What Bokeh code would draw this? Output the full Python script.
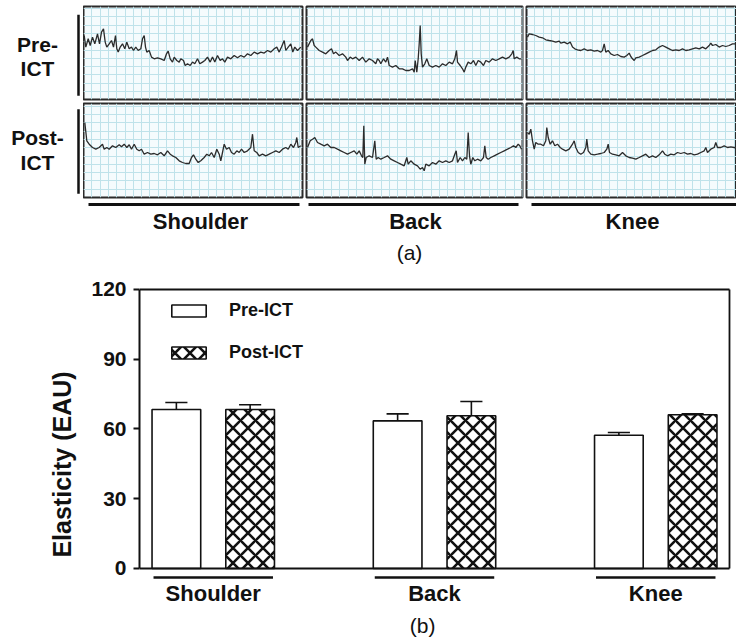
from bokeh.plotting import figure
from bokeh.models import Range1d, Grid, SingleIntervalTicker, Legend, LegendItem, FixedTicker
from bokeh.layouts import column, row
from bokeh.core.properties import value
from bokeh.embed import file_html
from bokeh.resources import INLINE

FONT = "Liberation Sans"
INK = "#111111"

# ---------------- data: (a) elastography traces (time, amplitude) ----------------
sh_pre_t = [0.7,2.3,4.7,6.7,9,11.3,14,16,18,20,21.7,23.3,25.7,28,30,32,33.3,34.7,36.7,39,41.3,43.3,45.7,48,50,52.3,54.7,57.3,59,60.7,62,63.3,65.7,68,70.7,74,77.3,80.7,83,84.7,86.7,89,90.7,93.3,95.7,97.3,100,101.7,104,106.7,109,111.3,114,116.3,119,121.3,124,126.7,129,131.3,134,136.7,139,141.3,144,147.3,150.7,154,157.3,160.7,164,167.3,170.7,174,177.3,180.7,184,187.3,190.7,193.3,195.7,198,200.7,202.3,204.7,207.3,209.3,211.3,214,215.7,217.3]
sh_pre_a = [64.3,52.7,61,54.3,62.7,56,66,56,67.7,71,57.7,52.7,56,59.3,52.7,64.3,51,47.7,52.7,56,51,57.7,51,52.7,49.3,52.7,49.3,51,61,64.3,52.7,47.7,49.3,42.7,41,42,41,39.3,46,48.7,41,37.7,42.7,39.3,37.7,41,39.3,34.3,36,34.3,37.7,36,41,36,37.7,39.3,42.7,37.7,42.7,37.7,44.3,39.3,41,37.7,42.7,41,44.3,42,44.3,42.7,46,44.3,47.7,46,47.7,46.7,49.3,47.7,51,52.7,47.7,52.7,59.3,49.3,52.7,56,47.7,52.7,49.3,51,52.7]

sh_post_t = [1.3,3.3,5.7,9,12.3,15.7,19,20.7,23.3,25.7,29,32.3,35.7,38,40.7,43.3,45.7,48,50.7,53.3,55.7,58,60.7,64,67.3,70.7,74,77.3,80.7,84,86.7,89,92.3,95.7,99,102.3,105.7,108,110,112.3,114.7,117.3,120.7,123.3,125.7,128,130.7,133.3,135.7,137.3,139,140.7,143,145.7,148,150.7,153.3,155.7,158,160.7,164,167.3,169,170.7,173.3,175.7,179,182.3,185.7,189,192.3,195.7,199,202.3,204.7,207.3,210,212.3,213.3,214.7,217.3]
sh_post_a = [75,56.7,53.3,50,48.3,50,53.3,48.3,50,48.3,51.7,50,52.7,50.7,53.3,50,52.7,48.3,53.3,48.3,46.7,48.3,43.3,45,43.3,44,42.7,45,41.7,46.7,43.3,41.7,40,36.7,35,34,34,40,42.7,38.3,35,36.7,40,43.3,41.7,45,40,48.3,43.3,36.7,45,53.3,48.3,50,45,43.3,46.7,45,48.3,45,46.7,50,63.3,46.7,45,41.7,43.3,41.7,43.3,45,46.7,45,48.3,50,48.3,53.3,50,55,60,50,51.7]

bk_pre_t = [1,4.3,6,7.7,9.3,12.7,16,19.3,22.7,25,27,29.3,32.7,36,39.3,41,43.7,46,49.3,52.7,56,59.3,62.7,66,69.3,71,72.7,74.3,77,79.3,81,82.7,86,89.3,92.7,96,99.3,102.7,106,107.7,108.7,110.3,111.7,112.7,113.7,114.7,116,118.3,120.3,122.7,126,129.3,132.7,136,139.3,142.7,146,148.3,150,151,153.7,156,157.7,159.3,161.7,164.3,167,169.3,171.7,174.3,177,179.3,182.7,186,189.3,192.7,196,199.3,202.7,205.3,206.7,207.7,210.3,212.7,215]
bk_pre_a = [52.7,59.3,61,54.3,52.7,49.3,47.7,46,49.3,51,46,47.7,44.3,46,42.7,39.3,42.7,41,42.7,39.3,42.7,37.7,41,39.3,36,41,39.3,36,41,37.7,42.7,34.3,32.7,34.3,31,31,29.3,29.3,31,27.7,39.3,27.7,41,56,74.3,46,32.7,36,41,34.3,32.7,34.3,32.7,36,34.3,37.7,36,41,49.3,37.7,34.3,31,27.7,32.7,37.7,36,39.3,34.3,39.3,37.7,34.3,39.3,37.7,41,39.3,41,42.7,41,42.7,46,49.3,41,42.7,41,41]

bk_post_t = [1,3.7,6,8.3,11,14.3,17.7,21,24.3,27.7,31,34.3,37.7,41,44.3,47.7,50.3,52.7,55,56.3,57.3,58.3,59.7,62.7,66,68.3,69.7,71.7,74.3,77.7,81,84.3,87.7,91,94.3,97.7,100.3,101.7,104.3,107.7,111,113.7,116,117.7,119.3,122.7,126,129.3,132.7,136,139.3,142.7,146,148.3,149.7,151,153.7,156,158.3,160.3,161.7,163,164.3,166.3,168.3,171,174.3,177,178.3,179.7,181.7,184.3,187.7,191,194.3,197.7,201,204.3,207,209.3,211.7,213.3,215]
bk_post_a = [50,56.7,58.3,60,55,53.3,51.7,53.3,50,50,48.3,46.7,45,43.3,45,46.7,43.3,46.7,41.7,40,71.7,33.3,40,41.7,40,56.7,38.3,40,38.3,40,41.7,38.3,36.7,35,33.3,31.7,40,33.3,36.7,33.3,31.7,28.3,30,26.7,33.3,31.7,35,33.3,36.7,35,36.7,35,36.7,43.3,46.7,35,40,36.7,40,38.3,65,41.7,33.3,40,36.7,38.3,36.7,40,51.7,40,38.3,40,41.7,43.3,45,46.7,48.3,50,51.7,50,53.3,51.7,48.3]

kn_pre_t = [1,2.7,6,9.3,12.7,16,19.3,22.7,26,29.3,32.7,34.3,37.7,41,43.7,46,48.3,51,54.3,57.7,61,64.3,67.7,71,74.3,76,77.7,79.3,81.7,84.3,87.7,91,94.3,97.7,100.3,102.7,104.3,106,107.7,109.3,112.7,116,119.3,122.7,126,129.3,132.7,136,139.3,142.7,146,149.3,152.7,156,159.3,162.7,166,169.3,172.7,176,179.3,182.7,184.3,186,189.3,192.7,196,199.3,202.7,206,209.3]
kn_pre_a = [62.7,66,65.3,64.3,62.7,62,60,59.3,58.7,57.7,58.7,56.7,57.7,56,57.7,52.7,51,50,49.3,51,49.3,50,48.7,49.3,47.7,49.3,56,47.7,49.3,46,44.3,45.3,43.3,42.7,44.3,46.7,43.3,41,39.3,42,42.7,44.3,46,47.7,49.3,50,52.7,54.3,52.7,51,49.3,50,49.3,51,49.3,50,51,52,51,52.7,51,54.3,56.7,54.3,55.3,52.7,54.3,53.3,54.3,56,56]

kn_post_t = [1,2.7,4.3,6,7.7,9.3,11.7,14.3,17,19.3,20.3,21.7,23.7,26,28.3,31,33.7,36,39.3,42.7,46,47.7,49.3,51.7,54.3,57,59.3,60.3,61.7,64.3,67.7,71,74.3,77.7,80.3,81.7,83,86,89.3,92.7,96,99.3,102.7,106,109.3,112.7,116,119.3,122.7,126,129.3,132.7,136,138.3,141,144.3,147.7,151,154.3,157.7,161,164.3,167.7,171,174.3,177.7,179.3,181,184.3,187.7,189.3,191,194.3,197.7,201,204.3,207.7,210.3]
kn_post_a = [65,63.3,68.3,56.7,48.3,55,53.3,53.3,51.7,56.7,70,60,53.3,56.7,51.7,53.3,50,48.3,46.7,48.3,53.3,56.7,50,45,43.3,45,50,58.3,46.7,43.3,42.7,43.3,44,45,48.3,53.3,45,43.3,42.7,41.7,45,41.7,40,39.3,38.3,40,41.7,43.3,40,41.7,40,42.7,46.7,43.3,41.7,43.3,42.7,45,44,45,43.3,44,42.7,43.3,45,46.7,50,45,48.3,50,55,50,50,51.7,50,50.7,50,49.3]

# ---------------- data: (b) bar chart ----------------
sites = ["Shoulder", "Back", "Knee"]
pre_ict = [68.4, 63.5, 57.3]
pre_sem = [3.0, 3.0, 1.2]
post_ict = [68.4, 65.7, 66.1]
post_sem = [2.0, 6.1, 0.4]
y_ticks = [0, 30, 60, 90, 120]
series_labels = ["Pre-ICT", "Post-ICT"]


def canvas(w, h, xr, yr):
    p = figure(width=w, height=h, x_range=Range1d(*xr), y_range=Range1d(*yr),
               x_axis_type=None, y_axis_type=None, toolbar_location=None,
               output_backend="svg", min_border=0)
    p.outline_line_color = None
    p.background_fill_color = "white"
    p.border_fill_color = "white"
    return p


def txt(p, xs, ys, texts, size, bold=True):
    p.text(x=xs, y=ys, text=texts, text_font=value(FONT),
           text_font_style="bold" if bold else "normal",
           text_font_size=value(size), text_align="center",
           text_baseline="middle", text_color=INK)


def panel(w, h, bl, br, bt, bb, xr, yr, t, a):
    p = figure(width=w, height=h, x_range=Range1d(*xr), y_range=Range1d(*yr),
               x_axis_type=None, y_axis_type=None, toolbar_location=None,
               output_backend="svg", min_border=0, min_border_left=bl,
               min_border_right=br, min_border_top=bt, min_border_bottom=bb)
    p.background_fill_color = "#f5fbfd"
    p.border_fill_color = "white"
    p.outline_line_color = "#2a2a2a"
    p.outline_line_width = 2
    p.outline_line_alpha = 1
    for d in (0, 1):
        p.add_layout(Grid(dimension=d,
                          ticker=SingleIntervalTicker(interval=8.3, num_minor_ticks=0),
                          grid_line_color="#bfe2ea", grid_line_width=1))
    n = min(len(t), len(a))
    p.line(t[:n], a[:n], line_color="#2b2b2b", line_width=1.3)
    return p


# ---- row labels ----
lab_pre = canvas(83, 101, (0, 83), (101, 0))
txt(lab_pre, [37, 37], [41, 67], ["Pre-", "ICT"], "21px")
lab_pre.segment(x0=[78], y0=[9], x1=[78], y1=[97], line_width=2.5, line_color=INK)

lab_post = canvas(83, 98, (0, 83), (199, 101))
txt(lab_post, [37, 37], [136, 162], ["Post-", "ICT"], "21px")
lab_post.segment(x0=[78], y0=[107], x1=[78], y1=[195], line_width=2.5, line_color=INK)

# ---- trace panels ----
sp = panel(221, 101, 0, 2, 6, 2, (0, 219), (0.3, 93.3), sh_pre_t, sh_pre_a)
bp = panel(220, 101, 2, 2, 6, 2, (0, 216), (0.3, 93.3), bk_pre_t, bk_pre_a)
kp = panel(212, 101, 2, 0, 6, 2, (0, 210), (0.3, 93.3), kn_pre_t, kn_pre_a)
spo = panel(221, 98, 0, 2, 2, 2, (0, 219), (0, 94), sh_post_t, sh_post_a)
bpo = panel(220, 98, 2, 2, 2, 2, (0, 216), (0, 94), bk_post_t, bk_post_a)
kpo = panel(212, 98, 2, 0, 2, 2, (0, 210), (0, 94), kn_post_t, kn_post_a)

# ---- (a) captions ----
cap_a = canvas(736, 71, (0, 736), (270, 199))
cap_a.segment(x0=[88, 308, 531], y0=[204, 204, 204], x1=[299, 518, 740], y1=[204, 204, 204],
              line_width=3, line_color=INK)
txt(cap_a, [200, 415, 632], [221, 221, 221], sites, "22px")
txt(cap_a, [409], [252], ["(a)"], "21px", bold=False)

# ---------------- (b) bar chart ----------------
bar = figure(width=736, height=371, x_range=Range1d(0, 8.095), y_range=Range1d(-31.4, 120.86),
             x_axis_type=None, toolbar_location=None, output_backend="svg",
             min_border=0, min_border_left=139, min_border_top=17)
bar.outline_line_color = None
bar.ygrid.visible = False
bar.background_fill_color = "white"
bar.border_fill_color = "white"

group_x = [1.0, 4.0, 7.0]
pre_x = [g - 0.5 for g in group_x]
post_x = [g + 0.5 for g in group_x]
bw = 0.66

r_pre = bar.vbar(x=pre_x, top=pre_ict, bottom=0, width=bw, fill_color="white",
                 line_color=INK, line_width=1.6)
r_post = bar.vbar(x=post_x, top=post_ict, bottom=0, width=bw, fill_color="white",
                  line_color=INK, line_width=1.6, hatch_pattern="diagonal_cross",
                  hatch_color=INK, hatch_scale=15, hatch_weight=2.6)

for xs, vals, errs in ((pre_x, pre_ict, pre_sem), (post_x, post_ict, post_sem)):
    tops = [v + e for v, e in zip(vals, errs)]
    bar.segment(x0=xs, y0=vals, x1=xs, y1=tops, line_color=INK, line_width=1.6)
    bar.segment(x0=[x - 0.15 for x in xs], y0=tops, x1=[x + 0.15 for x in xs], y1=tops,
                line_color=INK, line_width=1.6)

x_end = 8.0
# box lines: baseline, top, right
bar.segment(x0=[0, 0, x_end], y0=[0, 120, 0], x1=[x_end, x_end, x_end], y1=[0, 120, 120],
            line_color=INK, line_width=1.8)

# group underlines and labels
bar.segment(x0=[g - 0.81 for g in group_x], y0=[-3.9] * 3, x1=[g + 0.81 for g in group_x],
            y1=[-3.9] * 3, line_color=INK, line_width=2.6)
txt(bar, group_x, [-10.9] * 3, sites, "22px")
txt(bar, [3.84], [-24.7], ["(b)"], "21px", bold=False)

yax = bar.yaxis[0]
yax.bounds = (0, 120)
yax.ticker = FixedTicker(ticks=y_ticks)
yax.minor_tick_line_color = None
yax.axis_line_width = 2
yax.axis_line_color = INK
yax.major_tick_line_width = 2
yax.major_tick_line_color = INK
yax.major_tick_in = 0
yax.major_tick_out = 6
yax.major_label_standoff = 7
yax.major_label_text_font = FONT
yax.major_label_text_font_style = "bold"
yax.major_label_text_font_size = "21px"
yax.major_label_text_color = INK
yax.axis_label = "Elasticity (EAU)"
yax.axis_label_text_font = FONT
yax.axis_label_text_font_style = "bold"
yax.axis_label_text_font_size = "25px"
yax.axis_label_text_color = INK
yax.axis_label_standoff = 12

legend = Legend(items=[LegendItem(label=series_labels[0], renderers=[r_pre]),
                       LegendItem(label=series_labels[1], renderers=[r_post])],
                location=(28, 278), orientation="vertical")
legend.glyph_width = 43
legend.glyph_height = 15
legend.label_height = 15
legend.label_standoff = 19
legend.spacing = 21
legend.padding = 0
legend.margin = 0
legend.border_line_color = None
legend.background_fill_alpha = 0
legend.label_text_font = FONT
legend.label_text_font_style = "bold"
legend.label_text_font_size = "18px"
legend.label_text_color = INK
bar.add_layout(legend)

layout = column(row(lab_pre, sp, bp, kp), row(lab_post, spo, bpo, kpo), row(cap_a), row(bar))

open("out.html", "w").write(file_html(layout, INLINE))
